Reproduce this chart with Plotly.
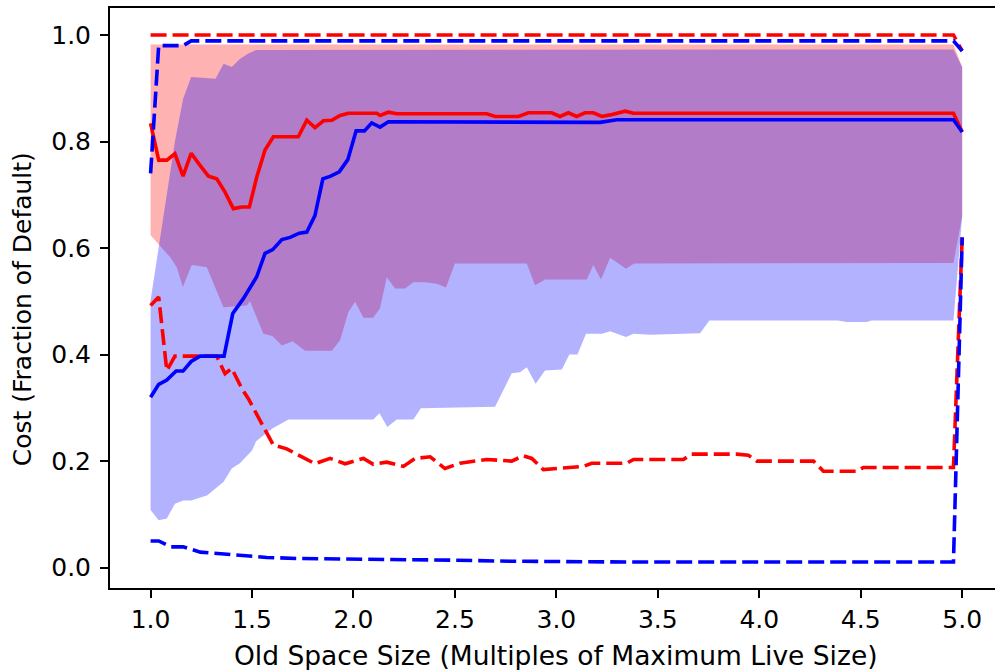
import plotly.graph_objects as go

# Old space size (multiples of maximum live size) and normalised cost series.
# Each series is stored as its own breakpoint list (x, y).

# --- red configuration ---
red_mean_x = [1.0, 1.04, 1.08, 1.12, 1.16, 1.2, 1.24, 1.285, 1.326, 1.367, 1.408, 1.45, 1.487,
              1.523, 1.564, 1.605, 1.728, 1.77, 1.81, 1.852, 1.893, 1.934, 1.975, 2.115, 2.131,
              2.172, 2.213, 2.657, 2.698, 2.813, 2.862, 2.977, 3.018, 3.059, 3.1, 3.141, 3.182,
              3.224, 3.265, 3.339, 3.38, 4.957, 5.0]
red_mean_y = [0.834, 0.765, 0.765, 0.777, 0.735, 0.778, 0.757, 0.735, 0.73, 0.705, 0.674, 0.677, 0.677,
              0.733, 0.784, 0.809, 0.809, 0.84, 0.826, 0.839, 0.84, 0.849, 0.853, 0.853, 0.849,
              0.855, 0.852, 0.852, 0.847, 0.847, 0.854, 0.854, 0.847, 0.854, 0.847, 0.854, 0.854,
              0.847, 0.85, 0.857, 0.853, 0.853, 0.818]

red_max_x = [1.0, 4.957, 5.0]
red_max_y = [1.0, 1.0, 0.97]

red_min_x = [1.0, 1.04, 1.08, 1.12, 1.326, 1.367, 1.4, 1.45, 1.482, 1.573, 1.605, 1.671, 1.81,
             1.885, 1.959, 2.049, 2.098, 2.164, 2.246, 2.304, 2.378, 2.451, 2.525, 2.657, 2.78,
             2.837, 2.879, 2.936, 3.133, 3.174, 3.347, 3.38, 3.626, 3.667, 3.889, 3.946, 3.988,
             4.267, 4.316, 4.481, 4.513, 4.957, 5.0]
red_min_y = [0.492, 0.508, 0.37, 0.397, 0.397, 0.364, 0.374, 0.336, 0.317, 0.251, 0.23, 0.223, 0.195,
             0.205, 0.195, 0.205, 0.194, 0.198, 0.19, 0.205, 0.208, 0.186, 0.196, 0.203, 0.2,
             0.21, 0.205, 0.184, 0.19, 0.196, 0.196, 0.203, 0.203, 0.213, 0.213, 0.211, 0.2,
             0.2, 0.181, 0.181, 0.188, 0.188, 0.62]

red_band_hi_x = [1.0, 4.957, 5.0]
red_band_hi_y = [0.982, 0.982, 0.94]
red_band_lo_x = [1.0, 1.096, 1.129, 1.159, 1.203, 1.277, 1.318, 1.359, 1.474, 1.49, 1.556, 1.6,
                 1.647, 1.7, 1.761, 1.893, 1.934, 1.975, 2.008, 2.049, 2.097, 2.131, 2.164, 2.205,
                 2.254, 2.295, 2.353, 2.41, 2.456, 2.5, 2.854, 2.895, 2.944, 3.15, 3.182, 3.22,
                 3.265, 3.343, 3.383, 4.957, 5.0]
red_band_lo_y = [0.624, 0.583, 0.564, 0.527, 0.568, 0.564, 0.527, 0.489, 0.492, 0.5, 0.439, 0.435,
                 0.417, 0.425, 0.407, 0.407, 0.427, 0.48, 0.499, 0.469, 0.469, 0.487, 0.545, 0.524,
                 0.524, 0.536, 0.536, 0.533, 0.526, 0.571, 0.571, 0.53, 0.541, 0.541, 0.568, 0.541,
                 0.582, 0.561, 0.571, 0.572, 0.66]

# --- blue configuration ---
blue_mean_x = [1.0, 1.04, 1.08, 1.126, 1.16, 1.2, 1.244, 1.362, 1.405, 1.457, 1.523, 1.564, 1.602,
               1.647, 1.688, 1.733, 1.77, 1.81, 1.849, 1.888, 1.93, 1.972, 2.013, 2.054, 2.09,
               2.131, 2.172, 3.215, 3.298, 4.957, 5.0]
blue_mean_y = [0.32, 0.344, 0.352, 0.369, 0.369, 0.387, 0.397, 0.397, 0.477, 0.505, 0.546, 0.59, 0.597,
               0.616, 0.62, 0.628, 0.63, 0.661, 0.73, 0.735, 0.743, 0.766, 0.82, 0.82, 0.835,
               0.827, 0.837, 0.836, 0.841, 0.841, 0.818]

blue_max_x = [1.0, 1.04, 1.16, 1.2, 4.957, 5.0]
blue_max_y = [0.74, 0.98, 0.98, 0.989, 0.989, 0.97]

blue_min_x = [1.0, 1.04, 1.1, 1.16, 1.245, 1.367, 1.474, 1.573, 1.737, 2.066, 2.476, 2.772, 3.34,
              4.957, 5.0]
blue_min_y = [0.05, 0.05, 0.039, 0.039, 0.029, 0.025, 0.023, 0.019, 0.017, 0.016, 0.014, 0.012, 0.0105,
              0.0105, 0.62]

blue_band_hi_x = [1.0, 1.04, 1.08, 1.12, 1.16, 1.2, 1.32, 1.36, 1.4, 1.44, 1.48, 1.52, 4.957, 5.0]
blue_band_hi_y = [0.502, 0.60, 0.70, 0.80, 0.88, 0.921, 0.918, 0.946, 0.94, 0.955, 0.965, 0.972, 0.973, 0.94]
blue_band_lo_x = [1.0, 1.04, 1.08, 1.12, 1.16, 1.2, 1.28, 1.32, 1.36, 1.4, 1.44, 1.5, 1.52, 1.6,
                  1.68, 2.098, 2.128, 2.167, 2.213, 2.295, 2.332, 2.698, 2.742, 2.78, 2.821, 2.854,
                  2.898, 2.944, 3.027, 3.064, 3.104, 3.146, 3.224, 3.265, 3.343, 3.38, 3.462, 3.708,
                  3.754, 4.388, 4.431, 4.53, 4.554, 4.957, 5.0]
blue_band_lo_y = [0.108, 0.089, 0.092, 0.12, 0.126, 0.126, 0.136, 0.148, 0.161, 0.186, 0.196, 0.22, 0.237, 0.261,
                  0.278, 0.278, 0.29, 0.264, 0.278, 0.278, 0.299, 0.302, 0.336, 0.365, 0.367, 0.376,
                  0.345, 0.37, 0.372, 0.4, 0.4, 0.439, 0.439, 0.444, 0.433, 0.439, 0.437, 0.44,
                  0.464, 0.464, 0.461, 0.461, 0.464, 0.464, 0.66]

x_ticks = [1.0, 1.5, 2.0, 2.5, 3.0, 3.5, 4.0, 4.5, 5.0]
y_ticks = [0.0, 0.2, 0.4, 0.6, 0.8, 1.0]

RED = "#ff0000"
BLUE = "#0000ff"
FONT = "DejaVu Sans"
LW = 3.6
DASH = "16px,6px"


def band(hi_x, hi_y, lo_x, lo_y, rgba):
    return go.Scatter(
        x=list(hi_x) + list(lo_x)[::-1],
        y=list(hi_y) + list(lo_y)[::-1],
        fill="toself", fillcolor=rgba, mode="lines",
        line=dict(width=0, color=rgba), hoverinfo="skip", showlegend=False,
    )


def curve(x, y, color, dash=None):
    return go.Scatter(
        x=x, y=y, mode="lines", showlegend=False,
        line=dict(color=color, width=LW, dash=dash or "solid"),
    )


fig = go.Figure()
fig.add_trace(band(red_band_hi_x, red_band_hi_y, red_band_lo_x, red_band_lo_y, "rgba(255,0,0,0.3)"))
fig.add_trace(band(blue_band_hi_x, blue_band_hi_y, blue_band_lo_x, blue_band_lo_y, "rgba(0,0,255,0.3)"))
fig.add_trace(curve(red_mean_x, red_mean_y, RED))
fig.add_trace(curve(red_max_x, red_max_y, RED, DASH))
fig.add_trace(curve(red_min_x, red_min_y, RED, DASH))
fig.add_trace(curve(blue_mean_x, blue_mean_y, BLUE))
fig.add_trace(curve(blue_max_x, blue_max_y, BLUE, DASH))
fig.add_trace(curve(blue_min_x, blue_min_y, BLUE, DASH))

W, H = 995, 670
ML, MR, MT, MB = 110, 0, 8, 82
PX_PER_X = 202.9
PX_PER_Y = 532.6
plot_w = W - ML - MR
plot_h = H - MT - MB
x0 = 0.8
y_top = 1.0 + (35 - MT) / PX_PER_Y

fig.update_layout(
    width=W, height=H,
    margin=dict(l=ML, r=MR, t=MT, b=MB),
    paper_bgcolor="white", plot_bgcolor="white",
    font=dict(family=FONT, size=25, color="black"),
    xaxis=dict(
        range=[x0, x0 + plot_w / PX_PER_X],
        tickmode="array", tickvals=x_ticks, ticktext=[f"{v:.1f}" for v in x_ticks],
        ticks="outside", ticklen=8, tickwidth=1.5, tickcolor="black",
        showline=True, linecolor="black", linewidth=2, mirror=True,
        showgrid=False, zeroline=False,
    ),
    yaxis=dict(
        range=[y_top - plot_h / PX_PER_Y, y_top],
        tickmode="array", tickvals=y_ticks, ticktext=[f"{v:.1f}" for v in y_ticks],
        ticks="outside", ticklen=8, tickwidth=1.5, tickcolor="black",
        showline=True, linecolor="black", linewidth=2,
        showgrid=False, zeroline=False, ticklabelstandoff=4,
    ),
    annotations=[
        dict(text="Old Space Size (Multiples of Maximum Live Size)",
             xref="x", x=3.0, yref="paper", y=(MT + plot_h - 655) / plot_h,
             xanchor="center", yanchor="middle", showarrow=False,
             font=dict(family=FONT, size=26.5)),
        dict(text="Cost (Fraction of Default)",
             xref="paper", x=(22 - ML) / plot_w, yref="y", y=0.485,
             xanchor="center", yanchor="middle", textangle=-90, showarrow=False,
             font=dict(family=FONT, size=25)),
    ],
)

fig.write_html("out.html")
